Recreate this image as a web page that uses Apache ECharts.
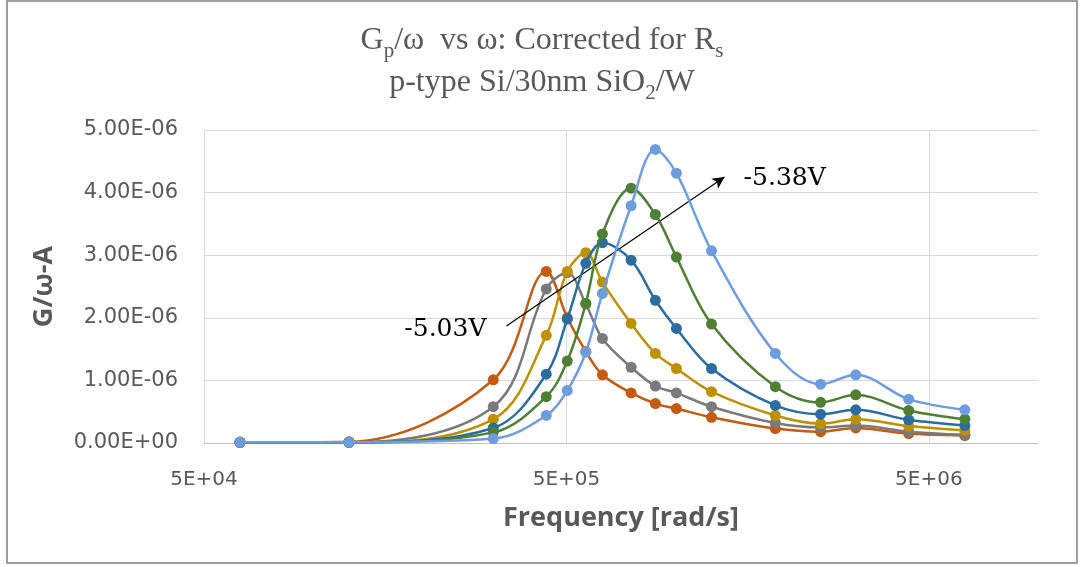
<!DOCTYPE html>
<html><head><meta charset="utf-8">
<script src="https://cdn.jsdelivr.net/npm/echarts@6/dist/echarts.min.js"></script>
<style>html,body{margin:0;padding:0;background:#fff}#c{width:1084px;height:567px}</style>
</head><body><div id="c"></div>
<script>
// Angular frequency [rad/s] (2*pi*{10,20,50,70,80,90,100,120,140,160,200,300,400,500,700,1000} kHz)
const freqRadPerSec = [62832, 125664, 314159, 439823, 502655, 565487, 628319, 753982, 879646, 1005310, 1256637, 1884956, 2513274, 3141593, 4398230, 6283185];
// G/omega values in units of 1E-06 A
const s503 = [0.01, 0.02, 1.01, 2.74, 2.00, 1.46, 1.09, 0.80, 0.63, 0.55, 0.41, 0.23, 0.18, 0.24, 0.15, 0.12];
const s2   = [0.01, 0.01, 0.58, 2.46, 2.72, 2.22, 1.67, 1.21, 0.91, 0.80, 0.58, 0.32, 0.25, 0.28, 0.18, 0.13];
const s3   = [0.01, 0.01, 0.38, 1.72, 2.74, 3.04, 2.57, 1.91, 1.43, 1.19, 0.82, 0.44, 0.31, 0.38, 0.27, 0.20];
const s4   = [0.01, 0.01, 0.24, 1.10, 1.98, 2.87, 3.20, 2.92, 2.28, 1.83, 1.19, 0.60, 0.46, 0.53, 0.37, 0.28];
const s5   = [0.01, 0.01, 0.17, 0.74, 1.31, 2.23, 3.34, 4.07, 3.65, 2.97, 1.90, 0.90, 0.65, 0.77, 0.52, 0.38];
const s538 = [0.01, 0.01, 0.07, 0.44, 0.84, 1.45, 2.39, 3.79, 4.69, 4.31, 3.07, 1.43, 0.94, 1.09, 0.70, 0.53];
const seriesNames = ['-5.03V', 'bias 2', 'bias 3', 'bias 4', 'bias 5', '-5.38V'];
const seriesValues = [s503, s2, s3, s4, s5, s538];
const seriesColors = ['#C55A11', '#7A7A7A', '#BF9000', '#2B6CA3', '#4F7F32', '#6E9DDF'];
const yTicks = [0, 1e-6, 2e-6, 3e-6, 4e-6, 5e-6];
const xTickLabels = ['5E+04', '5E+05', '5E+06'];
const xMinFreq = 5e4, xMaxFreq = 1e7;
// annotation: arrow from/to [freq, value] and labels
const arrowFrom = [341500, 1.87e-6], arrowTo = [1365000, 4.25e-6];
const labelLow = {text: '-5.03V', at: [231700, 1.82e-6]};
const labelHigh = {text: '-5.38V', at: [2000000, 4.23e-6]};

const tx = f => Math.log10(f / xMinFreq);
function sci(v){
  if (Math.abs(v) < 1e-15) return '0.00E+00';
  const e = Math.floor(Math.log10(Math.abs(v)) + 1e-9);
  const m = v / Math.pow(10, e);
  return m.toFixed(2) + 'E' + (e < 0 ? '-' : '+') + String(Math.abs(e)).padStart(2, '0');
}
const GRAY = '#595959';
const chart = echarts.init(document.getElementById('c'));
const series = seriesValues.map((vals, i) => ({
  name: seriesNames[i], type: 'line', smooth: 0.35,
  data: vals.map((v, j) => [tx(freqRadPerSec[j]), v * 1e-6]),
  symbol: 'circle', symbolSize: 11,
  itemStyle: {color: seriesColors[i]},
  lineStyle: {color: seriesColors[i], width: 2.5},
  emphasis: {disabled: true}, animation: false, z: 2 + i
}));
series[series.length - 1].markLine = {
  silent: true, symbol: ['none', 'arrow'], symbolSize: [9, 12], animation: false,
  lineStyle: {color: '#000', width: 1.2, type: 'solid'}, label: {show: false},
  data: [[{coord: [tx(arrowFrom[0]), arrowFrom[1]]}, {coord: [tx(arrowTo[0]), arrowTo[1]]}]]
};
series[series.length - 1].markPoint = {
  silent: true, symbol: 'circle', symbolSize: 0, animation: false,
  label: {show: true, position: 'inside', color: '#000', fontFamily: 'DejaVu Serif', fontSize: 25, formatter: p => p.name},
  data: [labelLow, labelHigh].map(l => ({name: l.text, coord: [tx(l.at[0]), l.at[1]]}))
};
chart.setOption({
  animation: false,
  title: {
    left: 'center', top: 15,
    text: '{m|G}{sub|p}{m|/ω  vs ω: Corrected for R}{sub|s}\n{m|p-type Si/30nm SiO}{sub|2}{m|/W}',
    textStyle: {
      fontWeight: 'normal',
      rich: {
        m: {fontFamily: 'Liberation Serif', fontSize: 32, fontWeight: 'normal', color: GRAY, lineHeight: 42},
        sub: {fontFamily: 'Liberation Serif', fontSize: 21, fontWeight: 'normal', color: GRAY, lineHeight: 14, verticalAlign: 'bottom'}
      }
    }
  },
  grid: {left: 204, right: 46, top: 130, bottom: 124, containLabel: false},
  xAxis: {
    type: 'value', min: 0, max: tx(xMaxFreq), interval: 1,
    name: 'Frequency [rad/s]', nameLocation: 'middle', nameGap: 62,
    nameTextStyle: {fontFamily: 'Open Sans', fontWeight: 'bold', fontSize: 27, color: GRAY},
    axisLine: {show: true, lineStyle: {color: '#BFBFBF', width: 1}},
    axisTick: {show: false},
    axisLabel: {margin: 27, color: GRAY, fontFamily: 'DejaVu Sans', fontSize: 20,
      showMaxLabel: false,
      formatter: v => { const r = Math.round(v); return Math.abs(v - r) < 1e-6 && xTickLabels[r] ? xTickLabels[r] : ''; }},
    splitLine: {show: true, showMaxLine: false, lineStyle: {color: '#D9D9D9', width: 1}}
  },
  yAxis: {
    type: 'value', min: yTicks[0], max: yTicks[yTicks.length - 1], interval: yTicks[1] - yTicks[0],
    name: 'G/ω-A', nameLocation: 'middle', nameGap: 146,
    nameTextStyle: {fontFamily: 'Open Sans', fontWeight: 'bold', fontSize: 27, color: GRAY},
    axisLine: {show: true, lineStyle: {color: '#D9D9D9'}},
    axisTick: {show: false},
    axisLabel: {margin: 26, color: GRAY, fontFamily: 'DejaVu Sans', fontSize: 21, formatter: sci},
    splitLine: {show: true, lineStyle: {color: '#D9D9D9', width: 1}}
  },
  graphic: [{type: 'rect', shape: {x: 7, y: 1, width: 1070, height: 562}, style: {fill: 'none', stroke: '#7F7F7F', lineWidth: 1.5}, silent: true, z: 100}],
  series: series
});
</script></body></html>
